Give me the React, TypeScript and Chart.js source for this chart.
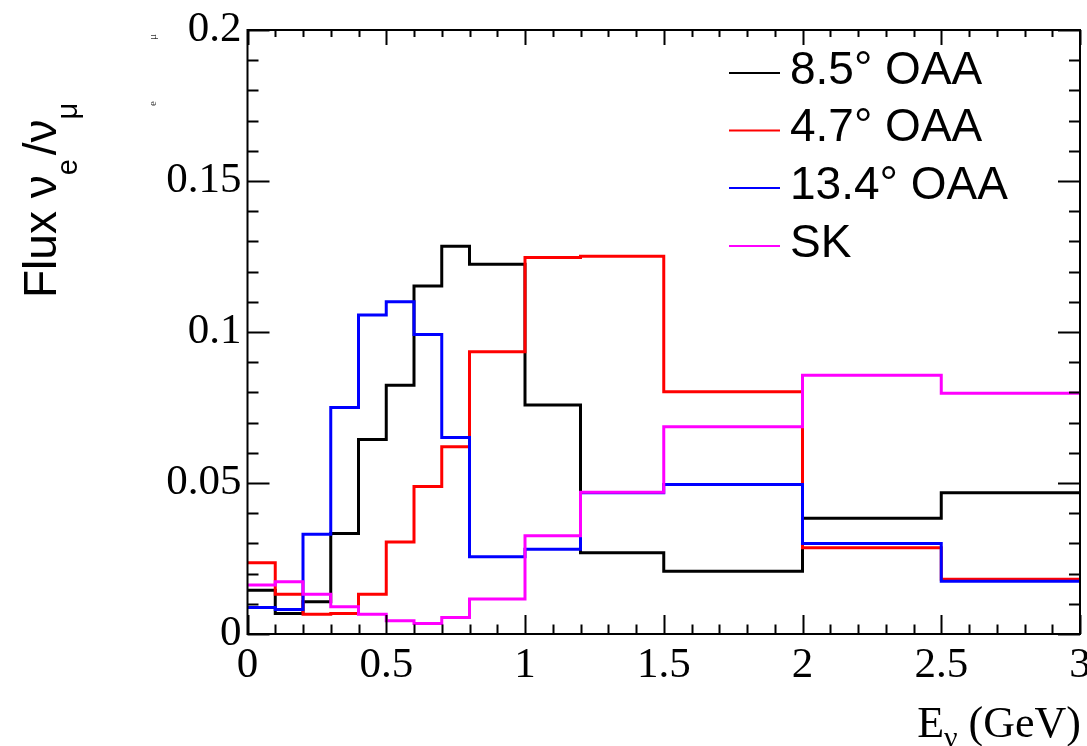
import React, { useEffect, useRef } from 'react';
import { Chart, registerables } from 'chart.js';

Chart.register(...registerables);

// ---- data ----
const BIN_EDGES = [0, 0.1, 0.2, 0.3, 0.4, 0.5, 0.6, 0.7, 0.8, 1.0, 1.2, 1.5, 2.0, 2.5, 3.0];
const SERIES_LABELS = ['8.5\u00b0 OAA', '4.7\u00b0 OAA', '13.4\u00b0 OAA', 'SK'];
const SERIES_COLORS = ['#000000', '#ff0000', '#0000ff', '#ff00ff'];
const FLUX_OAA_85 = [0.0145, 0.0068, 0.0107, 0.0333, 0.0644, 0.0824, 0.1152, 0.1284, 0.1224, 0.0758, 0.0269, 0.0208, 0.0383, 0.0468];
const FLUX_OAA_47 = [0.0236, 0.0132, 0.0065, 0.0068, 0.0132, 0.0305, 0.0488, 0.062, 0.0935, 0.1247, 0.1251, 0.0802, 0.0286, 0.0181];
const FLUX_OAA_134 = [0.0088, 0.0081, 0.033, 0.075, 0.1056, 0.11, 0.0992, 0.0651, 0.0256, 0.0281, 0.0468, 0.0495, 0.03, 0.0175];
const FLUX_SK = [0.0162, 0.0173, 0.0132, 0.009, 0.0065, 0.0044, 0.0035, 0.0055, 0.0116, 0.0325, 0.0469, 0.0686, 0.0857, 0.0797];
const X_TICKS = [0, 0.5, 1, 1.5, 2, 2.5, 3];
const X_TICK_LABELS = ['0', '0.5', '1', '1.5', '2', '2.5', '3'];
const Y_TICKS = [0, 0.05, 0.1, 0.15, 0.2];
const Y_TICK_LABELS = ['0', '0.05', '0.1', '0.15', '0.2'];
const X_MIN = 0, X_MAX = 3, Y_MIN = 0, Y_MAX = 0.2;
const X_MINOR_STEP = 0.1;
const Y_MINOR_STEP = 0.01;

const SERIF = "'Liberation Serif', 'Times New Roman', serif";
const SANS = "'Liberation Sans', Arial, Helvetica, sans-serif";

const toSteps = (vals: number[]) => [
  ...vals.map((v, i) => ({ x: BIN_EDGES[i], y: v })),
  { x: BIN_EDGES[vals.length], y: vals[vals.length - 1] },
];

const labelFor = (ticks: number[], labels: string[], v: number) => {
  let best = 0;
  for (let i = 0; i < ticks.length; i++) if (Math.abs(ticks[i] - v) < Math.abs(ticks[best] - v)) best = i;
  return labels[best];
};

const decorPlugin = {
  id: 'rootDecor',
  afterDraw(chart: any) {
    const { ctx, chartArea, scales } = chart;
    const { left, right, top, bottom } = chartArea;
    const xs = scales.x, ys = scales.y;
    ctx.save();
    ctx.strokeStyle = '#000';
    ctx.lineWidth = 2;
    ctx.lineCap = 'butt';
    // frame
    ctx.strokeRect(left, top, right - left, bottom - top);
    // x ticks (bottom & top, inward)
    const nx = Math.round((X_MAX - X_MIN) / X_MINOR_STEP);
    for (let i = 0; i <= nx; i++) {
      const v = X_MIN + i * X_MINOR_STEP;
      const px = Math.round(xs.getPixelForValue(v)) + 0.5;
      const major = i % 5 === 0;
      const len = major ? 19 : 9.5;
      ctx.beginPath();
      ctx.moveTo(px, bottom);
      ctx.lineTo(px, bottom - len);
      ctx.moveTo(px, top);
      ctx.lineTo(px, top + (major ? 15 : 7));
      ctx.stroke();
    }
    // y ticks (left & right, inward)
    const ny = Math.round((Y_MAX - Y_MIN) / Y_MINOR_STEP);
    for (let i = 0; i <= ny; i++) {
      const v = Y_MIN + i * Y_MINOR_STEP;
      const py = Math.round(ys.getPixelForValue(v)) + 0.5;
      const major = i % 5 === 0;
      const len = major ? 22 : 11;
      ctx.beginPath();
      ctx.moveTo(left, py);
      ctx.lineTo(left + len, py);
      ctx.moveTo(right, py);
      ctx.lineTo(right - len, py);
      ctx.stroke();
    }
    // legend
    const rows = [73, 130.5, 188, 246];
    chart.data.datasets.forEach((ds: any, i: number) => {
      const y = rows[i];
      ctx.strokeStyle = ds.borderColor;
      ctx.lineWidth = 2;
      ctx.beginPath();
      ctx.moveTo(729, y);
      ctx.lineTo(780, y);
      ctx.stroke();
      ctx.fillStyle = '#000';
      ctx.font = `46px ${SANS}`;
      ctx.textAlign = 'left';
      ctx.textBaseline = 'middle';
      ctx.fillText(ds.label, 790, y - 2);
    });
    // y title
    ctx.fillStyle = '#000';
    ctx.textBaseline = 'alphabetic';
    ctx.textAlign = 'left';
    ctx.save();
    ctx.translate(56, 298);
    ctx.rotate(-Math.PI / 2);
    const big = `46px ${SANS}`;
    const small = `29px ${SANS}`;
    let cx = 0;
    const run = (t: string, f: string, dy: number) => {
      ctx.font = f;
      ctx.fillText(t, cx, dy);
      cx += ctx.measureText(t).width;
    };
    run('Flux \u03bd', big, 0);
    run('e', small, 21);
    cx += 4;
    run('/', big, 0);
    run('\u03bd', big, 0);
    run('\u03bc', small, 21);
    ctx.restore();
    // stray tiny glyphs
    ctx.save();
    ctx.font = `11px ${SERIF}`;
    ctx.fillStyle = '#333';
    ctx.translate(156, 40);
    ctx.rotate(-Math.PI / 2);
    ctx.fillText('\u03bc', 0, 0);
    ctx.restore();
    ctx.save();
    ctx.font = `11px ${SERIF}`;
    ctx.fillStyle = '#333';
    ctx.translate(156, 106);
    ctx.rotate(-Math.PI / 2);
    ctx.fillText('e', 0, 0);
    ctx.restore();
    // x title
    const fBig = `44px ${SERIF}`;
    const fSmall = `30px ${SERIF}`;
    ctx.font = fBig;
    const wE = ctx.measureText('E').width;
    const wRest = ctx.measureText(' (GeV)').width;
    ctx.font = fSmall;
    const wNu = ctx.measureText('\u03bd').width;
    let tx = right + 1 - (wE + wNu + wRest);
    const base = 737;
    ctx.font = fBig;
    ctx.fillText('E', tx, base);
    tx += wE;
    ctx.font = fSmall;
    ctx.fillText('\u03bd', tx, base + 10);
    tx += wNu;
    ctx.font = fBig;
    ctx.fillText(' (GeV)', tx, base);
    ctx.restore();
  },
};

export default function App() {
  const ref = useRef<HTMLCanvasElement | null>(null);
  useEffect(() => {
    document.body.style.margin = '0';
    const canvas = ref.current;
    if (!canvas) return;
    const seriesValues = [FLUX_OAA_85, FLUX_OAA_47, FLUX_OAA_134, FLUX_SK];
    const chart = new Chart(canvas, {
      type: 'line',
      data: {
        datasets: seriesValues.map((vals, i) => ({
          label: SERIES_LABELS[i],
          data: toSteps(vals),
          borderColor: SERIES_COLORS[i],
          backgroundColor: SERIES_COLORS[i],
          borderWidth: 3,
          pointRadius: 0,
          fill: false,
          stepped: 'before' as const,
          tension: 0,
          order: seriesValues.length - i,
        })),
      },
      plugins: [decorPlugin],
      options: {
        responsive: false,
        animation: false,
        devicePixelRatio: 1,
        layout: { padding: { left: 0, right: 7, top: 30, bottom: 0 } },
        plugins: { legend: { display: false }, tooltip: { enabled: false } },
        scales: {
          x: {
            type: 'linear',
            min: X_MIN,
            max: X_MAX,
            grid: { display: false, drawTicks: false },
            border: { display: false },
            afterBuildTicks: (s: any) => { s.ticks = X_TICKS.map((v) => ({ value: v })); },
            afterFit: (s: any) => { s.height = 112; s.paddingLeft = 0; s.paddingRight = 0; },
            ticks: {
              color: '#000',
              padding: 6,
              maxRotation: 0,
              autoSkip: false,
              font: { family: SERIF, size: 43 },
              callback: (v: any) => labelFor(X_TICKS, X_TICK_LABELS, Number(v)),
            },
          },
          y: {
            type: 'linear',
            min: Y_MIN,
            max: Y_MAX,
            grid: { display: false, drawTicks: false },
            border: { display: false },
            afterBuildTicks: (s: any) => { s.ticks = Y_TICKS.map((v) => ({ value: v })); },
            afterFit: (s: any) => { s.width = 247.5; s.paddingTop = 0; s.paddingBottom = 0; },
            ticks: {
              color: '#000',
              padding: 6,
              autoSkip: false,
              font: { family: SERIF, size: 43 },
              callback: (v: any) => labelFor(Y_TICKS, Y_TICK_LABELS, Number(v)),
            },
          },
        },
      },
    } as any);
    return () => chart.destroy();
  }, []);
  return (
    <div style={{ width: 1087, height: 746, background: '#fff' }}>
      <canvas ref={ref} width={1087} height={746} style={{ display: 'block' }} />
    </div>
  );
}
